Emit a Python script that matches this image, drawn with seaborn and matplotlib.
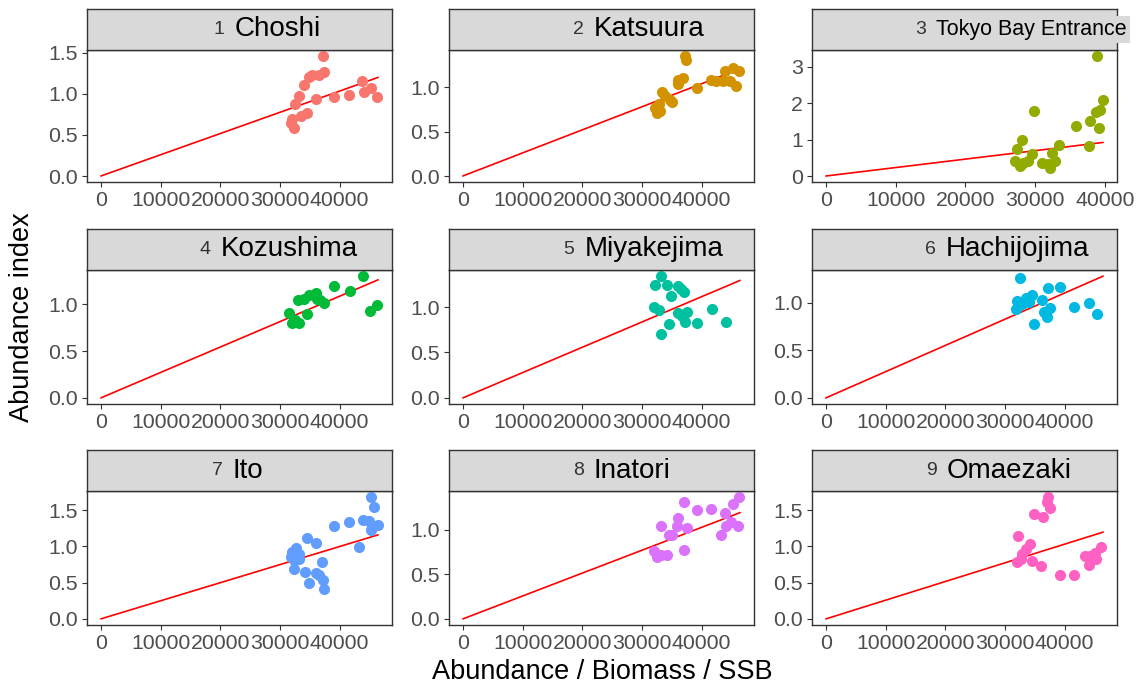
import numpy as np
import pandas as pd
import matplotlib
matplotlib.use("Agg")
import matplotlib.pyplot as plt
from matplotlib.ticker import MultipleLocator, FuncFormatter
import seaborn as sns

# ---- data: abundance index vs SSB for each area ----
areas = ["Choshi", "Katsuura", "Tokyo Bay Entrance", "Kozushima", "Miyakejima",
         "Hachijojima", "Ito", "Inatori", "Omaezaki"]

ssb_choshi = [37234, 37345, 36515, 35408, 34855, 34025, 33195, 32531, 32089, 31812,
              32365, 33472, 34578, 36072, 39004, 41660, 43817, 44094, 45256, 46307]
idx_choshi = [1.46, 1.27, 1.23, 1.23, 1.20, 1.11, 0.97, 0.87, 0.69, 0.65,
              0.59, 0.73, 0.77, 0.94, 0.96, 0.98, 1.15, 1.02, 1.07, 0.96]

ssb_katsuura = [37234, 37400, 36957, 36128, 36017, 33361, 33914, 34744, 35021, 32808, 32254,
                32531, 33084, 39170, 41660, 42490, 43873, 45256, 46362, 44703, 45809, 43596]
idx_katsuura = [1.35, 1.31, 1.10, 1.085, 1.03, 0.94, 0.90, 0.86, 0.83, 0.81, 0.77,
                0.71, 0.73, 0.99, 1.085, 1.07, 1.18, 1.21, 1.18, 1.07, 1.01, 1.07]

ssb_tokyo = [38952, 39762, 39286, 38810, 37857, 39143, 35857, 37762, 29905, 28190, 27381,
             27143, 27857, 28238, 29048, 29524, 30952, 32143, 32381, 32857, 33476, 31905]
idx_tokyo = [3.29, 2.07, 1.80, 1.76, 1.51, 1.31, 1.37, 0.81, 1.77, 0.99, 0.74,
             0.41, 0.27, 0.36, 0.41, 0.59, 0.36, 0.23, 0.63, 0.41, 0.84, 0.34]

ssb_kozushima = [43873, 39004, 41770, 36128, 34855, 34025, 33084, 36238, 36791, 37344,
                 31535, 34578, 32089, 33195, 32531, 45090, 46307]
idx_kozushima = [1.30, 1.19, 1.14, 1.12, 1.10, 1.06, 1.05, 1.06, 1.05, 1.01,
                 0.91, 0.90, 0.80, 0.80, 0.83, 0.93, 0.99]

ssb_miyakejima = [33250, 32254, 34191, 36128, 37124, 34910, 36570, 31978, 32808,
                  36017, 37510, 36681, 37234, 39170, 34633, 33250, 41770, 44149]
idx_miyakejima = [1.34, 1.24, 1.24, 1.23, 1.16, 1.12, 1.20, 1.00, 0.97,
                  0.93, 0.94, 0.90, 0.83, 0.82, 0.81, 0.70, 0.98, 0.84]

ssb_hachijojima = [32476, 37234, 39170, 34578, 33472, 36238, 32089, 34025, 32365,
                   31812, 37621, 36515, 37068, 34965, 41660, 44094, 45367, 32918]
idx_hachijojima = [1.26, 1.15, 1.16, 1.08, 1.05, 1.03, 1.02, 1.01, 0.97,
                   0.93, 0.94, 0.90, 0.85, 0.78, 0.95, 1.00, 0.88, 0.99]

ssb_ito = [45201, 45809, 46473, 45367, 44925, 43983, 41660, 39115, 45256, 43320, 34578, 36128, 32642,
           32089, 33195, 31812, 32365, 33195, 37068, 32365, 34191, 36072, 34855, 36625, 37234, 37344]
idx_ito = [1.68, 1.54, 1.30, 1.28, 1.35, 1.36, 1.34, 1.28, 1.22, 0.99, 1.11, 1.05, 0.98,
           0.92, 0.90, 0.85, 0.81, 0.83, 0.79, 0.69, 0.65, 0.63, 0.50, 0.60, 0.53, 0.41]

ssb_inatori = [37068, 39170, 41660, 45256, 46362, 43983, 36128, 33250, 35900, 37510, 34467,
               35021, 44980, 44149, 46141, 43320, 37124, 31978, 32531, 33250, 34191]
idx_inatori = [1.32, 1.23, 1.24, 1.29, 1.37, 1.19, 1.14, 1.04, 1.04, 1.02, 0.94,
               0.94, 1.09, 1.05, 1.04, 0.94, 0.77, 0.76, 0.70, 0.72, 0.72]

ssb_omaezaki = [37234, 37068, 37621, 34855, 36349, 32199, 34191, 33472, 32808, 32089, 32642,
                34578, 36128, 39281, 41660, 43430, 44260, 45201, 46197, 44094, 45090]
idx_omaezaki = [1.68, 1.61, 1.53, 1.45, 1.40, 1.14, 1.03, 0.97, 0.90, 0.78, 0.83,
                0.80, 0.73, 0.61, 0.61, 0.87, 0.87, 0.83, 0.99, 0.74, 0.91]

# catchability (slope of the proportional model, index = q * SSB)
q_values = [2.582e-5, 2.594e-5, 2.314e-5, 2.712e-5, 2.782e-5,
            2.749e-5, 2.495e-5, 2.573e-5, 2.576e-5]

ssb_series = [ssb_choshi, ssb_katsuura, ssb_tokyo, ssb_kozushima, ssb_miyakejima,
              ssb_hachijojima, ssb_ito, ssb_inatori, ssb_omaezaki]
idx_series = [idx_choshi, idx_katsuura, idx_tokyo, idx_kozushima, idx_miyakejima,
              idx_hachijojima, idx_ito, idx_inatori, idx_omaezaki]

# the Tokyo Bay series covers a shorter period; the others share the full SSB range
short_series = {2}
full_ssb_max = max(max(s) for k, s in enumerate(ssb_series) if k not in short_series)

# ---- styling ----
palette = ["#F8766D", "#D39200", "#93AA00", "#00BA38", "#00C19F",
           "#00B9E3", "#619CFF", "#DB72FB", "#FF61C3"]
name_sizes = [20, 20, 15.5, 20, 20, 20, 20, 20, 20]
label_shift_px = [26, 28.5, 49, 39.5, 38, 39.5, 27.5, 28.5, 38.5]

sns.set_theme(style="white")
plt.rcParams["font.family"] = ["Liberation Sans", "DejaVu Sans"]

W, H = 1142, 690
fig = plt.figure(figsize=(W / 100, H / 100), dpi=100)
fig.patch.set_facecolor("white")

col_left = [87, 449, 812]
panel_w = 305
row_top = [50, 270, 491]
panel_h = 134
strip_h = 41

dark = "#333333"
grey_txt = "#4D4D4D"

for i, name in enumerate(areas):
    r, c = divmod(i, 3)
    x0 = col_left[c]
    y0 = row_top[r]
    ph = 132 if r == 0 else panel_h
    ax = fig.add_axes([x0 / W, 1 - (y0 + ph) / H, panel_w / W, ph / H])

    df = pd.DataFrame({"ssb": ssb_series[i], "index": idx_series[i]})
    xmax = df["ssb"].max() if i in short_series else full_ssb_max
    fit = pd.DataFrame({"ssb": np.linspace(0, xmax, 50)})
    fit["index"] = q_values[i] * fit["ssb"]

    sns.lineplot(data=fit, x="ssb", y="index", color="red", linewidth=1.2, ax=ax, zorder=2)
    sns.scatterplot(data=df, x="ssb", y="index", color=palette[i], s=64,
                    linewidth=0, ax=ax, zorder=3)

    ytop = max(df["index"].max(), fit["index"].max())
    ax.set_xlim(-0.05 * xmax, 1.05 * xmax)
    ax.set_ylim(-0.05 * ytop, 1.05 * ytop)

    ax.xaxis.set_major_locator(MultipleLocator(10000))
    ax.xaxis.set_major_formatter(FuncFormatter(lambda v, _: f"{v:.0f}"))
    if i == 2:
        ax.yaxis.set_major_locator(MultipleLocator(1))
        ax.yaxis.set_major_formatter(FuncFormatter(lambda v, _: f"{v:.0f}"))
    else:
        ax.yaxis.set_major_locator(MultipleLocator(0.5))
        ax.yaxis.set_major_formatter(FuncFormatter(lambda v, _: f"{v:.1f}"))

    ax.set_xlabel("")
    ax.set_ylabel("")
    for sp in ax.spines.values():
        sp.set_color(dark)
        sp.set_linewidth(1.0)
    ax.tick_params(axis="both", which="major", direction="out", length=3.6, width=0.8,
                   color=dark, labelcolor=grey_txt, labelsize=15.3, pad=3,
                   bottom=True, left=True)
    ax.grid(False)
    ax.set_facecolor("white")

    # facet strip
    sax = fig.add_axes([x0 / W, 1 - y0 / H, panel_w / W, strip_h / H])
    sax.set_facecolor("#D9D9D9")
    sax.set_xticks([])
    sax.set_yticks([])
    for sp in sax.spines.values():
        sp.set_color(dark)
        sp.set_linewidth(1.0)
    cx = x0 + panel_w / 2
    left_px = cx - label_shift_px[i]
    num = sax.text((left_px - x0) / panel_w, 0.5, str(i + 1), transform=sax.transAxes,
                   ha="left", va="center", fontsize=14, color=dark)
    bbox = None
    if i == 2:
        bbox = dict(facecolor="#D9D9D9", edgecolor="none", pad=2)
    sax.annotate(name, xy=(1, 0.5), xycoords=num, xytext=(10, 0),
                 textcoords="offset pixels", ha="left", va="center",
                 fontsize=name_sizes[i], color="black", bbox=bbox,
                 annotation_clip=False)

fig.text(22 / W, 1 - 317 / H, "Abundance index", rotation=90, ha="center",
         va="center", fontsize=19.5, color="black")
fig.text(602 / W, 1 - 672 / H, "Abundance / Biomass / SSB", ha="center",
         va="center", fontsize=19.5, color="black")

fig.savefig("out.png", dpi=100, facecolor="white")
